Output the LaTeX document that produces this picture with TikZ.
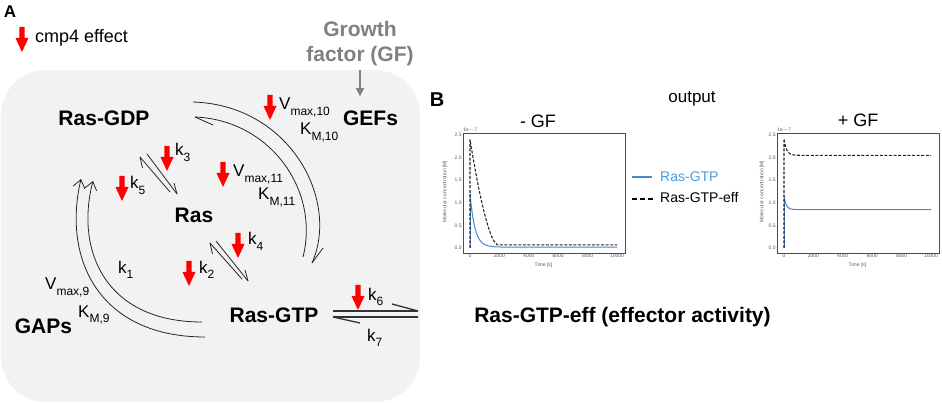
\documentclass[tikz,border=0pt]{standalone}
\usepackage{fontspec}
\setmainfont{Liberation Sans}
\usetikzlibrary{arrows.meta}
\definecolor{boxgray}{HTML}{F2F2F2}
\definecolor{gfgray}{HTML}{808080}
\definecolor{legblue}{HTML}{4C9BE0}
\definecolor{lineblue}{HTML}{4A86C8}
\newcommand\setfs[1]{\fontsize{#1}{#1}\selectfont}
\newcommand\lowsub[1]{\raisebox{-0.3em}{\fontsize{12}{12}\selectfont #1}}
\tikzset{
  species/.style={font={\bfseries\setfs{21}}, inner sep=0pt, anchor=base},
  param/.style={font={\setfs{17}}, inner sep=0pt, anchor=base west},
  rxn/.style={draw=black!85, line width=0.8pt},
  rxnthick/.style={draw=black!80, line width=1.3pt},
  fullhead/.style={-{Straight Barb[length=8pt,width=12pt]}},
  gfarr/.style={draw=gfgray, line width=1.5pt, -{Triangle[length=8pt,width=8pt]}},
  frame/.style={draw=gray!60!black, line width=0.6pt},
  tick/.style={font={\setfs{5}}, text=gray!70!black, inner sep=1.2pt},
  dashc/.style={draw=black!85, line width=1.1pt, dash pattern=on 3pt off 1.6pt},
  bluec/.style={draw=lineblue, line width=1pt},
  cmpdown/.pic={\fill[red] (-2.7,0) -- (2.7,0) -- (2.7,11) -- (6.5,11) -- (0,25) -- (-6.5,11) -- (-2.7,11) -- cycle;}
}
\begin{document}
\begin{tikzpicture}[x=1pt,y=-1pt]
\useasboundingbox (0,0) rectangle (942,403);
% background box
\fill[boxgray, rounded corners=45pt] (1,70) rectangle (420,402);

% panel letters and legend
\node[inner sep=0pt, anchor=base, font={\bfseries\setfs{17}}] (lA) at (10,18) {A};
\pic at (22,27) {cmpdown};
\node[inner sep=0pt, anchor=base west, font={\setfs{18}}] (leg) at (35,43) {cmp4 effect};

% growth factor
\node[inner sep=0pt, anchor=north, align=center, text=gfgray, font={\bfseries\fontsize{21}{25}\selectfont}] (gf) at (360,21.5) {Growth\\factor (GF)};

% species
\node[species] (gdp) at (104,126) {Ras-GDP};
\node[species] (gefs) at (370.5,126) {GEFs};
\node[species] (ras) at (194,223) {Ras};
\node[species] (gtp) at (274,323) {Ras-GTP};
\node[species] (gaps) at (43.5,333) {GAPs};
\node[species] (eff) at (622.5,322) {Ras-GTP-eff (effector activity)};

\draw[gfarr, shorten <=4pt, shorten >=15pt] (gf.south) -- (gf.south |- gefs.north);

% parameters
\node[param] (v10) at (279,110) {V\lowsub{max,10}};
\node[param] (km10) at (300,135) {K\lowsub{M,10}};
\node[param] (v11) at (233,177) {V\lowsub{max,11}};
\node[param] (km11) at (258,200) {K\lowsub{M,11}};
\node[param] (k3) at (175,156) {k\lowsub{3}};
\node[param] (k5) at (130,189) {k\lowsub{5}};
\node[param] (k4) at (248,245) {k\lowsub{4}};
\node[param] (k2) at (199,273) {k\lowsub{2}};
\node[param] (k1) at (118,273) {k\lowsub{1}};
\node[param] (v9) at (45,290) {V\lowsub{max,9}};
\node[param] (km9) at (78,317) {K\lowsub{M,9}};
\node[param] (k6) at (368,300) {k\lowsub{6}};
\node[param] (k7) at (367,341) {k\lowsub{7}};

% red inhibitor arrows
\pic at (270,95) {cmpdown};
\pic at (223,162) {cmpdown};
\pic at (167,146) {cmpdown};
\pic at (122,176) {cmpdown};
\pic at (238,233) {cmpdown};
\pic at (189,261) {cmpdown};
\pic at (358,285) {cmpdown};

% GEF arcs
\coordinate (go1) at (193,102);
\coordinate (go2) at (312,263);
\coordinate (gi1) at (195,117);
\coordinate (gi2) at (303,257);
\draw[rxn] (go1) .. controls (290,105) and (340,200) .. (go2);
\draw[rxn] (go2) -- ++(11,-15);
\draw[rxn] (gi2) .. controls (320,190) and (270,120) .. (gi1);
\draw[rxn] (gi1) -- ++(18,8);

% GAP arcs
\coordinate (ao1) at (205,337);
\coordinate (ao2) at (81,179);
\coordinate (ai1) at (202,322);
\coordinate (ai2) at (93,181);
\draw[rxn, fullhead] (ao1) .. controls (100,337) and (62,260) .. (ao2);
\draw[rxn, fullhead] (ai1) .. controls (105,322) and (75,250) .. (ai2);

% Ras-GDP <-> Ras
\coordinate (l1a) at (140,157);
\coordinate (l1b) at (170,192);
\coordinate (r1a) at (147,154);
\coordinate (r1b) at (177,194);
\draw[rxn] (l1a) -- (l1b);
\draw[rxn] (l1a) -- ++(2.5,11);
\draw[rxn] (r1a) -- (r1b);
\draw[rxn] (r1b) -- ++(-3,-11);

% Ras <-> Ras-GTP
\coordinate (l2a) at (210,243);
\coordinate (l2b) at (242,279);
\coordinate (r2a) at (216,241);
\coordinate (r2b) at (248,281);
\draw[rxn] (l2a) -- (l2b);
\draw[rxn] (l2a) -- ++(2.5,11);
\draw[rxn] (r2a) -- (r2b);
\draw[rxn] (r2b) -- ++(-3,-11);

% Ras-GTP <-> Ras-GTP-eff
\coordinate (e1a) at (333,311);
\coordinate (e1b) at (418,311);
\coordinate (e2a) at (333,317);
\coordinate (e2b) at (418,317);
\draw[rxnthick] (e1a) -- (e1b);
\draw[rxnthick] (e1b) -- ++(-26,-7);
\draw[rxnthick] (e2a) -- (e2b);
\draw[rxnthick] (e2a) -- ++(27,6);

% panel B
\node[inner sep=0pt, anchor=base, font={\bfseries\setfs{20}}] (lB) at (437,107) {B};
\node[inner sep=0pt, anchor=base, font={\setfs{17}}] (out) at (692,103) {output};
\node[inner sep=0pt, anchor=base, font={\setfs{18}}] (mgf) at (538,128) {- GF};
\node[inner sep=0pt, anchor=base, font={\setfs{18}}] (pgf) at (858,127) {+ GF};

% legend
\coordinate (lb1) at (632,177);
\coordinate (lb2) at (652,177);
\coordinate (ld1) at (632,199);
\coordinate (ld2) at (655,199);
\draw[draw=lineblue, line width=2.5pt] (lb1) -- (lb2);
\draw[draw=black, line width=2pt, dash pattern=on 5pt off 3pt] (ld1) -- (ld2);
\node[inner sep=0pt, anchor=base west, text=legblue, font={\setfs{14}}] (lgtp) at (660,182) {Ras-GTP};
\node[inner sep=0pt, anchor=base west, font={\setfs{14}}] (leff) at (660,203) {Ras-GTP-eff};

% left plot (-GF)
\begin{scope}[shift={(470,248)}, x=14.7pt, y=45.2pt]
  \draw[frame] (-0.48,-0.11) rectangle (10.54,2.54);
  \foreach \t/\l in {0/0,2/2000,4/4000,6/6000,8/8000,10/10000}
    \node[tick, anchor=north] at (\t,-0.11) {\l};
  \foreach \v in {0.0,0.5,1.0,1.5,2.0,2.5}
    \node[tick, anchor=east] at (-0.48,\v) {\v};
  \node[tick, anchor=north] at (5,-0.3) {Time [s]};
  \node[tick, rotate=90] at (-1.7,1.25) {Molecular concentration [M]};
  \node[tick, anchor=south west, inner sep=0.3pt] at (-0.48,2.54) {1e$-$7};
  \draw[bluec] (0,0) -- (0,1.2);
  \draw[bluec] plot[domain=0:2.2, samples=50] (\x,{0.02+1.18*exp(-\x/0.33)}) -- (10,0.02);
  \draw[dashc] (0,0) -- (0,2.4) -- (0.2,2.01) -- (0.4,1.65) -- (0.6,1.31) -- (0.8,1.01) -- (1.0,0.74) -- (1.2,0.51) -- (1.4,0.31) -- (1.6,0.165) -- (1.85,0.07) -- (10,0.07);
\end{scope}

% right plot (+GF)
\begin{scope}[shift={(784,248)}, x=14.7pt, y=45.2pt]
  \draw[frame] (-0.48,-0.11) rectangle (10.54,2.54);
  \foreach \t/\l in {0/0,2/2000,4/4000,6/6000,8/8000,10/10000}
    \node[tick, anchor=north] at (\t,-0.11) {\l};
  \foreach \v in {0.0,0.5,1.0,1.5,2.0,2.5}
    \node[tick, anchor=east] at (-0.48,\v) {\v};
  \node[tick, anchor=north] at (5,-0.3) {Time [s]};
  \node[tick, rotate=90] at (-1.5,1.25) {Molecular concentration [M]};
  \node[tick, anchor=south west, inner sep=0.3pt] at (-0.48,2.54) {1e$-$7};
  \draw[bluec] (0,0) -- (0,1.15);
  \draw[bluec] plot[domain=0:1.5, samples=40] (\x,{0.85+0.3*exp(-\x/0.15)}) -- (10,0.85);
  \draw[dashc] (0,0) -- (0,2.4) plot[domain=0:1.5, samples=40] (\x,{2.05+0.35*exp(-\x/0.18)}) -- (10,2.05);
\end{scope}
\end{tikzpicture}
\end{document}
